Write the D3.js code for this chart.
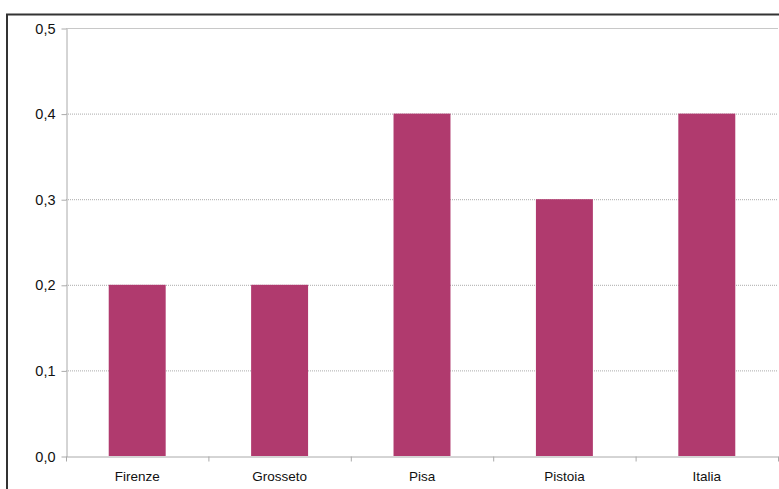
<!DOCTYPE html>
<html><head><meta charset="utf-8">
<script src="https://cdn.jsdelivr.net/npm/d3@7"></script>
<style>body{margin:0;background:#fff}</style>
</head><body>
<svg id="chart" width="779" height="489"></svg>
<script>
// Data
const categories = ["Firenze", "Grosseto", "Pisa", "Pistoia", "Italia"];
const values = [0.2, 0.2, 0.4, 0.3, 0.4];
const yTicks = [0, 0.1, 0.2, 0.3, 0.4, 0.5];

const svg = d3.select("#chart");
const plotLeft = 66, plotRight = 778, plotTop = 28, plotBottom = 456;

// Outer frame
svg.append("path")
    .attr("d", "M7,489 L7,14.5 L779,14.5")
    .attr("fill", "none").attr("stroke", "#333").attr("stroke-width", 2);

const x = d3.scaleBand().domain(categories).range([plotLeft, plotRight]).paddingInner(0).paddingOuter(0);
const y = d3.scaleLinear().domain([0, 0.5]).range([plotBottom, plotTop]);

// Gridlines
svg.selectAll(".grid").data(yTicks.filter(d => d > 0)).enter().append("line")
    .attr("x1", plotLeft).attr("x2", plotRight)
    .attr("y1", d => y(d) + 0.5).attr("y2", d => y(d) + 0.5)
    .attr("stroke", d => d === 0.5 ? "#c8c8c8" : "#aaa")
    .attr("stroke-dasharray", d => d === 0.5 ? null : "1,1");

// Bars
const bw = x.bandwidth() * 0.4;
svg.selectAll(".bar").data(values).enter().append("rect")
    .attr("x", (d, i) => x(categories[i]) + (x.bandwidth() - bw) / 2)
    .attr("y", d => y(d))
    .attr("width", bw)
    .attr("height", d => plotBottom - y(d))
    .attr("fill", "#b03a6e");

// Y axis
const yAxis = svg.append("g").attr("transform", `translate(${plotLeft + 0.5},0.5)`)
    .call(d3.axisLeft(y).tickValues(yTicks).tickSize(5).tickSizeOuter(0)
        .tickFormat(d => d3.format(".1f")(d).replace(".", ",")));
// X axis
const xAxis = svg.append("g").attr("transform", `translate(0,${plotBottom + 0.5})`)
    .call(d3.axisBottom(x).tickSize(0).tickSizeOuter(0));
xAxis.selectAll(".tick text").attr("dy", "1.6em");
const bounds = categories.map(c => x(c)).concat([plotRight]);
xAxis.selectAll(".bound").data(bounds).enter().append("line")
    .attr("x1", d => d + 0.5).attr("x2", d => d + 0.5).attr("y1", 0).attr("y2", 5)
    .attr("stroke", "#aaa");

[yAxis, xAxis].forEach(g => {
    g.selectAll("path.domain").attr("stroke", "#aaa");
    g.selectAll(".tick line").attr("stroke", "#aaa");
    g.selectAll("text").attr("font-family", "Liberation Sans, Arial, sans-serif")
        .attr("font-size", 13.5).attr("fill", "#111");
});
yAxis.selectAll(".tick text").attr("x", -11).attr("font-size", 14.5);
</script>
</body></html>
